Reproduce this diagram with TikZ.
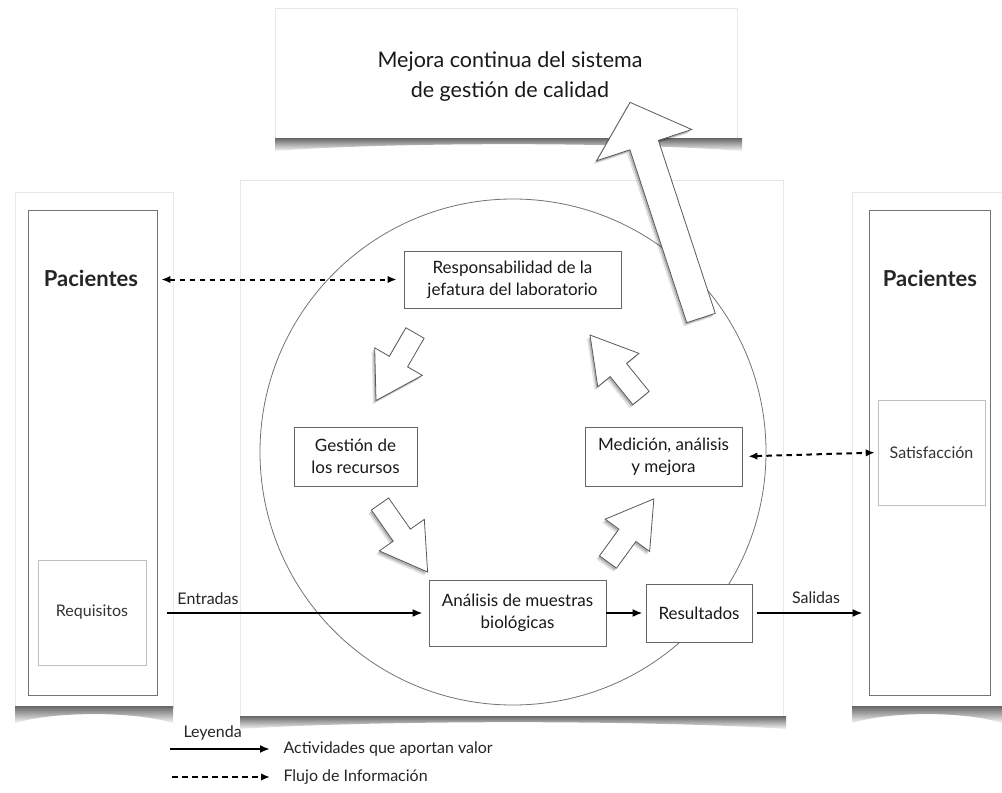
\documentclass[tikz,border=0pt]{standalone}
\usepackage{fontspec}
\setmainfont{Lato}
\usetikzlibrary{arrows.meta,calc}
\newcommand{\blkarrowpath}[5]{(0,{-#3/2}) -- ({#2-#5},{-#3/2}) -- ({#2-#5},{-#4/2}) -- (#2,0) -- ({#2-#5},{#4/2}) -- ({#2-#5},{#3/2}) -- (0,{#3/2}) -- cycle}
% #1 x, #2 y, #3 angle, #4 length, #5 shaft width, #6 head width, #7 head length
\newcommand{\blkarrow}[7]{%
  \begin{scope}[shift={({#1-3},{#2+3.5})},rotate=#3]
    \fill[black,opacity=0.12] \blkarrowpath{0}{#4}{#5}{#6}{#7};
  \end{scope}
  \begin{scope}[shift={({#1-1.5},{#2+2})},rotate=#3]
    \fill[black,opacity=0.2] \blkarrowpath{0}{#4}{#5}{#6}{#7};
  \end{scope}
  \begin{scope}[shift={(#1,#2)},rotate=#3]
    \filldraw[blkarr] \blkarrowpath{0}{#4}{#5}{#6}{#7};
  \end{scope}}
% #1 x1, #2 x2, #3 y0, #4 height
\newcommand{\curlshadow}[4]{%
  \shade[top color=black!60, bottom color=black!3]
    (#1,#3) -- (#2,#3) -- (#2,{#3+#4})
    .. controls ({#2-0.25*(#2-#1)},{#3+0.3*#4}) and ({#1+0.25*(#2-#1)},{#3+0.3*#4}) .. (#1,{#3+#4}) -- cycle;}
\begin{document}
\begin{tikzpicture}[x=1pt,y=-1pt,
  panel/.style={draw=black!9, line width=0.6pt, fill=white},
  inner/.style={draw=black!55, line width=0.8pt, fill=white, inner sep=0pt},
  subbox/.style={draw=black!25, line width=0.6pt, fill=white, text=black!80, font=\fontsize{16}{19}\selectfont},
  box/.style={draw=black!60, line width=0.8pt, fill=white, align=center, text=black!90, inner sep=0pt,
              font=\fontsize{17}{22}\selectfont},
  ptitle/.style={text=black!85, font=\fontsize{22}{26}\selectfont\bfseries},
  lbl/.style={text=black!85, font=\fontsize{16}{19}\selectfont},
  flow/.style={draw=black, line width=2pt, -{Latex[length=10pt,width=8pt]}},
  info/.style={draw=black, line width=2pt, dash pattern=on 5.5pt off 4.5pt, {Latex[length=9pt,width=7.5pt]}-{Latex[length=9pt,width=7.5pt]}},
  blkarr/.style={draw=black!65, line width=0.8pt, fill=white, line join=miter}
]
\useasboundingbox (0,0) rectangle (1002,793);
\fill[white] (0,0) rectangle (1002,793);

% panels
\draw[panel] (275,8) rectangle (737,138);
\draw[panel] (240,180) rectangle (783,716);
\draw[panel] (15,192) rectangle (173,708);
\draw[panel] (852,192) rectangle (1010,708);
\curlshadow{275}{742}{138}{13}
\curlshadow{240}{786}{716}{13}
\curlshadow{15}{173}{706}{17}
\curlshadow{852}{1002}{706}{17}

% top title
\node[align=center, text=black!90, font=\fontsize{21.5}{30}\selectfont] (mejora) at (510,77)
  {Mejora continua del sistema\\de gestión de calidad};

% patient columns
\node[inner, minimum width=129, minimum height=485] (pacL) at (92.5,452.5) {};
\node[inner, minimum width=121, minimum height=485] (pacR) at (929.5,452.5) {};
\node[ptitle] (pacLt) at (91,278) {Pacientes};
\node[ptitle] (pacRt) at (930,278) {Pacientes};
\node[subbox, minimum width=108, minimum height=105] (req) at (92,612.5) {Requisitos};
\node[subbox, minimum width=107, minimum height=105] (sat) at (931.5,452.5) {Satisfacción};

% circle
\draw[black!55, line width=0.8pt] (513,452) circle[radius=253];

% process boxes
\node[box, minimum width=217, minimum height=57] (resp) at (512.5,279.5) {Responsabilidad de la\\jefatura del laboratorio};
\node[box, minimum width=123, minimum height=59] (gest) at (355.5,456.5) {Gestión de\\los recursos};
\node[box, minimum width=157, minimum height=59] (med) at (663.5,456.5) {Medición, análisis\\y mejora};
\node[box, minimum width=177, minimum height=66] (anal) at (517.5,613) {Análisis de muestras\\biológicas};
\node[box, minimum width=106, minimum height=58] (res) at (699,613) {Resultados};

% block arrows of the cycle
\blkarrow{415}{333}{240}{78}{21}{55}{45}
\blkarrow{380}{504}{-55}{83}{21}{55}{45}
\blkarrow{608}{562}{54}{78}{21}{55}{45}
\blkarrow{641}{398}{129}{81}{21}{53}{45}
% big arrow to continuous improvement
\blkarrow{701}{318}{108.2}{227}{30}{100}{45}

% connectors
\draw[info, shorten <=4pt, shorten >=7pt] (pacL.east |- resp.west) -- (resp.west);
\draw[info, shorten <=6pt, shorten >=3pt] (med.east) -- (sat.west);
\draw[flow, shorten <=10pt, shorten >=6pt] (anal.west -| pacL.east) -- (anal.west);
\draw[flow, shorten >=3pt] (anal.east) -- (res.west);
\draw[flow, shorten <=5pt, shorten >=6pt] (res.east) -- (res.east -| pacR.west);
\node[lbl] (ent) at (208,599) {Entradas};
\node[lbl] (sal) at (816,598) {Salidas};

% legend
\node[lbl, anchor=west] (ley) at (180,733) {Leyenda};
\coordinate (la) at (170,749);
\node[lbl, anchor=west] (lt1) at (280,749) {Actividades que aportan valor};
\draw[flow, shorten >=10pt] (la) -- (la -| lt1.west);
\coordinate (lb) at (172,777);
\node[lbl, anchor=west] (lt2) at (280,777) {Flujo de Información};
\draw[draw=black, line width=2pt, dash pattern=on 5.5pt off 4.5pt, -{Latex[length=9pt,width=7.5pt]}, shorten >=10pt] (lb) -- (lb -| lt2.west);
\end{tikzpicture}
\end{document}
